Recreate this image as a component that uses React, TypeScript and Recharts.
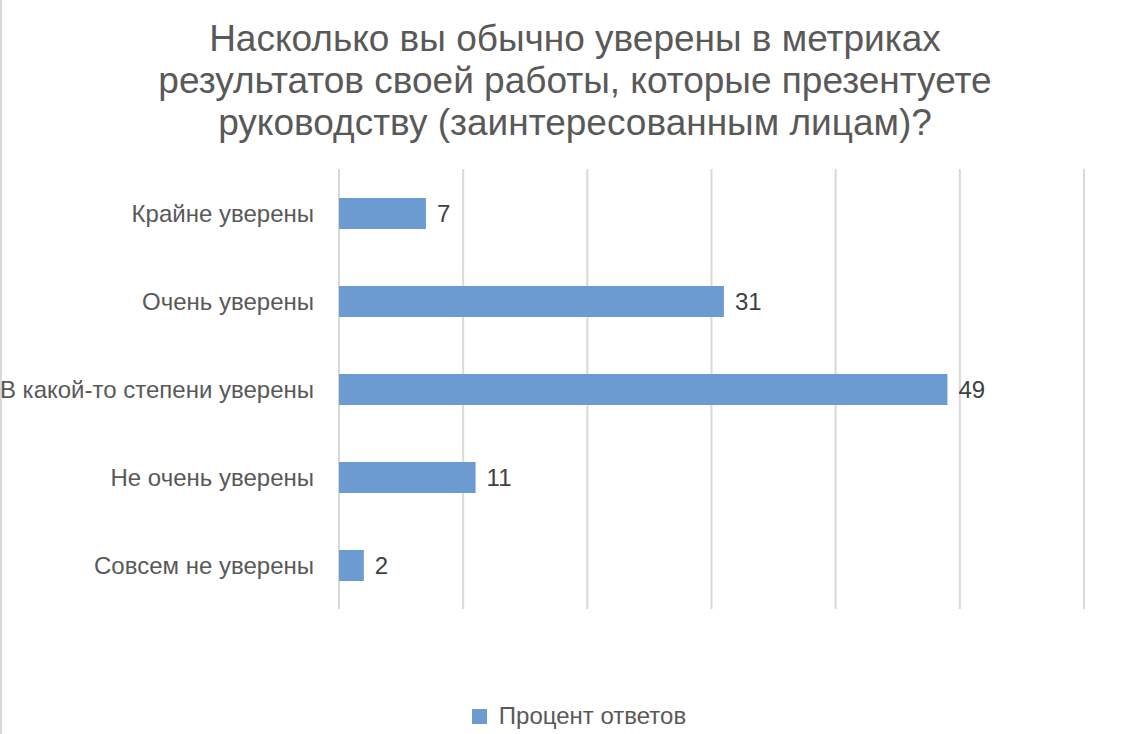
import { BarChart, Bar, XAxis, YAxis, CartesianGrid, Legend, LabelList } from "recharts";

const categories = [
  "Крайне уверены",
  "Очень уверены",
  "В какой-то степени уверены",
  "Не очень уверены",
  "Совсем не уверены",
];
const percentValues = [7, 31, 49, 11, 2];
const xTicks = [0, 10, 20, 30, 40, 50, 60];
const titleLines = [
  "Насколько вы обычно уверены в метриках",
  "результатов своей работы, которые презентуете",
  "руководству (заинтересованным лицам)?",
];
const seriesName = "Процент ответов";

const data = categories.map((name, i) => ({ name, value: percentValues[i] }));

const FONT = "'Liberation Sans', Arial, sans-serif";
const BAR_COLOR = "#6b9bd0";

function LegendContent() {
  return (
    <div
      style={{
        display: "flex",
        justifyContent: "center",
        alignItems: "center",
        fontFamily: FONT,
        fontSize: 24,
        color: "#595959",
        paddingLeft: 12,
      }}
    >
      <span style={{ width: 15, height: 15, background: BAR_COLOR, marginRight: 12 }} />
      <span>{seriesName}</span>
    </div>
  );
}

export default function App() {
  return (
    <div
      style={{
        position: "absolute",
        left: 0,
        top: 0,
        width: 1146,
        height: 734,
        background: "#fff",
        borderLeft: "2px solid #d9d9d9",
        boxSizing: "border-box",
        fontFamily: FONT,
      }}
    >
      <div
        style={{
          position: "absolute",
          top: 18,
          left: 0,
          width: 1146,
          textAlign: "center",
          fontSize: 37,
          lineHeight: "42px",
          color: "#595959",
        }}
      >
        {titleLines.map((t) => (
          <div key={t}>{t}</div>
        ))}
      </div>
      <div style={{ position: "absolute", left: -2, top: 0 }}>
        <BarChart
          width={1146}
          height={734}
          data={data}
          layout="vertical"
          margin={{ top: 169, right: 62, bottom: 125, left: 0 }}
        >
          <CartesianGrid horizontal={false} stroke="#d9d9d9" strokeWidth={2} />
          <XAxis type="number" domain={[0, 60]} ticks={xTicks} hide />
          <YAxis
            type="category"
            dataKey="name"
            width={339}
            axisLine={false}
            tickLine={false}
            tickSize={6}
            tickMargin={19}
            tick={{ fill: "#595959", fontSize: 24, fontFamily: FONT }}
          />
          <Legend
            verticalAlign="middle"
            align="center"
            content={<LegendContent />}
            wrapperStyle={{ top: 702, left: 0, width: 1146 }}
          />
          <Bar dataKey="value" name={seriesName} fill={BAR_COLOR} barSize={31} isAnimationActive={false}>
            <LabelList
              dataKey="value"
              position="right"
              offset={11}
              fill="#404040"
              fontSize={24}
              fontFamily={FONT}
            />
          </Bar>
        </BarChart>
      </div>
    </div>
  );
}
